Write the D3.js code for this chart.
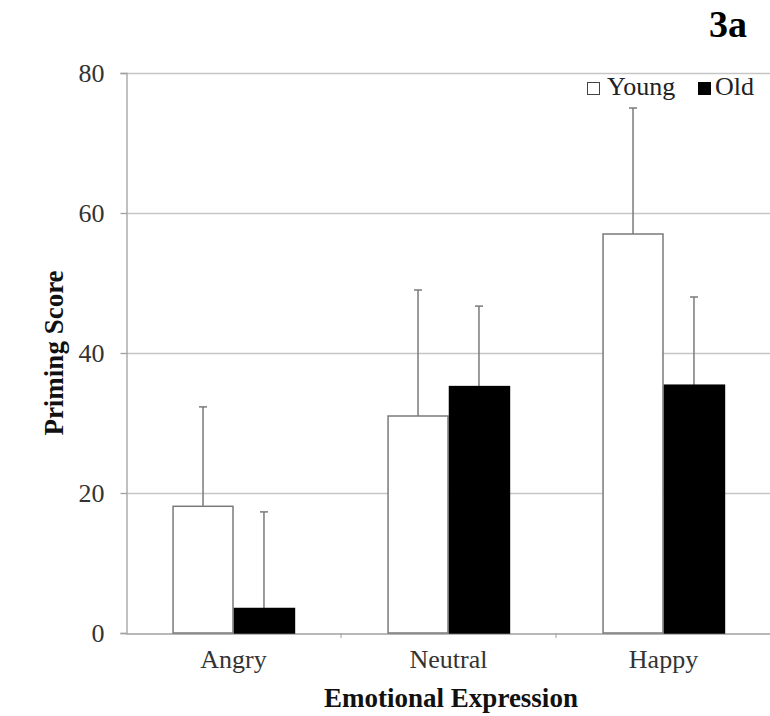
<!DOCTYPE html>
<html>
<head>
<meta charset="utf-8">
<script src="https://cdn.jsdelivr.net/npm/d3@7"></script>
<style>
  body { margin: 0; background: #fff; }
  svg text { font-family: "Liberation Serif", "Times New Roman", serif; }
</style>
</head>
<body>
<div id="chart"></div>
<script>
const categories = ["Angry", "Neutral", "Happy"]
const groups = ["Young", "Old"]
const youngMeans = [18.1, 31.0, 57.0]
const oldMeans = [3.5, 35.2, 35.4]
const youngErr = [14.2, 18.0, 18.0]
const oldErr = [13.8, 11.5, 12.6]
const yTicks = [0, 20, 40, 60, 80]

const width = 770
const height = 716
const margin = {top: 73, bottom: 83, left: 126, right: -1}

const data = categories.map((c, i) => ({
  cat: c,
  vals: [
    {g: "Young", v: youngMeans[i], e: youngErr[i]},
    {g: "Old", v: oldMeans[i], e: oldErr[i]}
  ]
}))

const svg = d3.select('#chart')
  .append('svg')
  .attr('width', width)
  .attr('height', height)

const x0 = d3.scaleBand()
  .domain(categories)
  .range([margin.left, width - margin.right])
  .paddingInner(0.433)
  .paddingOuter(0.2165)

const x1 = d3.scaleBand()
  .domain(groups)
  .range([0, x0.bandwidth()])

const y = d3.scaleLinear()
  .domain([0, 80])
  .range([height - margin.bottom, margin.top])

// gridlines
svg.append('g')
  .selectAll('line')
  .data(yTicks.filter(d => d > 0))
  .join('line')
  .attr('x1', margin.left)
  .attr('x2', width)
  .attr('y1', d => y(d) + 0.5)
  .attr('y2', d => y(d) + 0.5)
  .attr('stroke', '#c6c6c6')
  .attr('stroke-width', 1.3)

// y axis
const yAxis = svg.append('g')
  .attr('transform', 'translate(' + [margin.left + 0.5, 0] + ')')
  .call(d3.axisLeft(y).tickValues(yTicks).tickSize(6).tickPadding(16))
yAxis.select('.domain').attr('stroke', '#a0a0a0').attr('stroke-width', 1.3)
yAxis.selectAll('line').attr('stroke', '#a0a0a0').attr('stroke-width', 1.3)
yAxis.selectAll('text')
  .attr('font-size', 26)
  .attr('fill', '#333')
  .attr('font-family', 'Liberation Serif')

// x axis
const xAxis = svg.append('g')
  .attr('transform', 'translate(' + [0, y(0) + 0.5] + ')')
  .call(d3.axisBottom(x0).tickSize(0).tickPadding(16))
xAxis.select('.domain').attr('stroke', '#a0a0a0').attr('stroke-width', 1.3)
xAxis.selectAll('text')
  .attr('font-size', 26)
  .attr('fill', '#333')
  .attr('font-family', 'Liberation Serif')

// small tick marks between categories
svg.append('g')
  .selectAll('line')
  .data(categories.slice(1))
  .join('line')
  .attr('x1', d => x0(d) - x0.step() * x0.paddingInner() / 2)
  .attr('x2', d => x0(d) - x0.step() * x0.paddingInner() / 2)
  .attr('y1', y(0))
  .attr('y2', y(0) + 5)
  .attr('stroke', '#a0a0a0')

const gCat = svg.append('g')
  .selectAll('g')
  .data(data)
  .join('g')
  .attr('transform', d => 'translate(' + [x0(d.cat), 0] + ')')

// error bars (upper only), drawn before bars
const err = gCat.selectAll('g.err')
  .data(d => d.vals)
  .join('g')
  .attr('class', 'err')
err.append('line')
  .attr('x1', d => x1(d.g) + x1.bandwidth() / 2)
  .attr('x2', d => x1(d.g) + x1.bandwidth() / 2)
  .attr('y1', d => y(d.v))
  .attr('y2', d => y(d.v + d.e))
  .attr('stroke', '#7a7a7a')
  .attr('stroke-width', 1.5)
err.append('line')
  .attr('x1', d => x1(d.g) + x1.bandwidth() / 2 - 4)
  .attr('x2', d => x1(d.g) + x1.bandwidth() / 2 + 4)
  .attr('y1', d => y(d.v + d.e))
  .attr('y2', d => y(d.v + d.e))
  .attr('stroke', '#7a7a7a')
  .attr('stroke-width', 1.5)

// bars
gCat.selectAll('rect')
  .data(d => d.vals)
  .join('rect')
  .attr('x', d => x1(d.g) + (d.g == 'Young' ? 0.5 : 1))
  .attr('y', d => y(d.v))
  .attr('width', d => x1.bandwidth() - 1)
  .attr('height', d => y(0) - y(d.v))
  .attr('fill', d => d.g == 'Young' ? '#fff' : '#000')
  .attr('stroke', d => d.g == 'Young' ? '#7a7a7a' : '#000')
  .attr('stroke-width', 1.5)

// legend
const legend = svg.append('g')
  .attr('transform', 'translate(' + [587, 95] + ')')
legend.append('rect')
  .attr('x', 0.5).attr('y', -12.5)
  .attr('width', 12).attr('height', 12)
  .attr('fill', '#fff').attr('stroke', '#444').attr('stroke-width', 1)
legend.append('text')
  .attr('x', 20).attr('y', 0)
  .attr('font-size', 26).attr('fill', '#222')
  .text('Young')
legend.append('rect')
  .attr('x', 111).attr('y', -13)
  .attr('width', 13).attr('height', 13)
  .attr('fill', '#000')
legend.append('text')
  .attr('x', 128).attr('y', 0)
  .attr('font-size', 26).attr('fill', '#222')
  .text('Old')

// axis titles
svg.append('text')
  .attr('transform', 'translate(' + [63, (y(0) + y(80)) / 2] + ') rotate(-90)')
  .attr('text-anchor', 'middle')
  .attr('font-size', 27)
  .attr('font-weight', 'bold')
  .attr('fill', '#111')
  .text('Priming Score')

svg.append('text')
  .attr('x', 451)
  .attr('y', 707)
  .attr('text-anchor', 'middle')
  .attr('font-size', 27)
  .attr('font-weight', 'bold')
  .attr('fill', '#111')
  .text('Emotional Expression')

svg.append('text')
  .attr('x', 728)
  .attr('y', 37)
  .attr('text-anchor', 'middle')
  .attr('font-size', 38)
  .attr('font-weight', 'bold')
  .attr('fill', '#000')
  .text('3a')
</script>
</body>
</html>
